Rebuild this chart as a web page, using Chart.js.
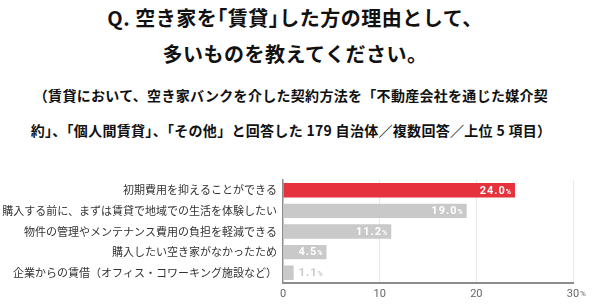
<!DOCTYPE html>
<html lang="ja">
<head>
<meta charset="utf-8">
<script src="https://cdn.jsdelivr.net/npm/chart.js@4/dist/chart.umd.min.js"></script>
<style>
  html, body { margin: 0; padding: 0; background: #fff; }
  #wrap { position: relative; width: 615px; height: 308px; overflow: hidden; }
  .txt { position: absolute; left: 0; width: 590px; text-align: center; white-space: nowrap;
         font-family: "Noto Sans CJK JP", sans-serif; font-weight: bold; color: #111; }
  .q { font-size: 20px; line-height: 36px; letter-spacing: 0.5px; }
  .q .h { font-feature-settings: "halt"; }
  .sub { font-size: 14px; line-height: 35px; letter-spacing: 0.3px; left: -4px; }
  canvas { position: absolute; left: 0; top: 0; }
</style>
</head>
<body>
<div id="wrap">
  <div class="txt q" style="top:0px">Q.&nbsp;空き家を<span class="h">「</span>賃貸<span class="h">」</span>した方の理由として、<br>多いものを教えてください。</div>
  <div class="txt sub" style="top:78px">（賃貸において、空き家バンクを介した契約方法を「不動産会社を通じた媒介契<br>約」、「個人間賃貸」、「その他」と回答した 179 自治体／複数回答／上位 5 項目）</div>
  <canvas id="myChart" width="615" height="308"></canvas>
</div>
<script>
// 回答項目と割合（%）
const labels = [
    '初期費用を抑えることができる',
    '購入する前に、まずは賃貸で地域での生活を体験したい',
    '物件の管理やメンテナンス費用の負担を軽減できる',
    '購入したい空き家がなかったため',
    '企業からの賃借（オフィス・コワーキング施設など）',
];
const values = [24.0, 19.0, 11.2, 4.5, 1.1];
const xTicks = [0, 10, 20, 30];

const RED = '#e5323d';
const GRAY = '#c9c9c9';

// バーの端に値ラベルを描く
const valueLabels = {
    id: 'valueLabels',
    afterDatasetsDraw(chart) {
        const ctx = chart.ctx;
        const meta = chart.getDatasetMeta(0);
        ctx.save();
        ctx.textBaseline = 'middle';
        meta.data.forEach((bar, i) => {
            const num = values[i].toFixed(1);
            ctx.font = 'bold 11px Roboto';
            ctx.letterSpacing = '1px';
            const w = ctx.measureText(num).width;
            ctx.font = 'bold 7px Roboto';
            ctx.letterSpacing = '0px';
            const pw = ctx.measureText('%').width;
            let x;
            if (values[i] > 3) {
                ctx.fillStyle = '#fff';
                x = bar.x - 4 - pw - w;
            } else {
                ctx.fillStyle = GRAY;
                x = bar.x + 5;
            }
            ctx.textAlign = 'left';
            ctx.font = 'bold 11px Roboto';
            ctx.letterSpacing = '1px';
            ctx.fillText(num, x, bar.y + 0.5);
            ctx.font = 'bold 7px Roboto';
            ctx.letterSpacing = '0px';
            ctx.fillText('%', x + w, bar.y + 1.5);
        });
        // 目盛り 30 の後ろの小さな %
        const xs = chart.scales.x;
        ctx.fillStyle = '#666';
        ctx.font = '8px Roboto';
        ctx.textAlign = 'left';
        ctx.fillText('%', xs.getPixelForValue(30) + 7, xs.top + 10.5);
        ctx.restore();
    },
};

const ctx = document.getElementById('myChart').getContext('2d');
const myChart = new Chart(ctx, {
    type: 'bar',
    data: {
        labels: labels,
        datasets: [{
            data: values,
            backgroundColor: values.map((v, i) => (i === 0 ? RED : GRAY)),
            categoryPercentage: 0.7,
            barPercentage: 1.0,
        }],
    },
    options: {
        indexAxis: 'y',
        responsive: false,
        animation: false,
        layout: { padding: { top: 180, right: 42, bottom: 5, left: 0 } },
        plugins: {
            legend: { display: false },
            tooltip: { enabled: false },
        },
        scales: {
            x: {
                min: 0,
                max: 30,
                afterBuildTicks: (s) => { s.ticks = xTicks.map((v) => ({ value: v })); },
                afterFit: (s) => { s.height = 20; },
                grid: {
                    drawTicks: false,
                    color: (c) => (c.tick && c.tick.value === 0 ? 'rgba(0,0,0,0)' : '#e9e9e9'),
                },
                border: { color: '#8c8c8c', width: 2 },
                ticks: {
                    padding: 5,
                    color: '#666',
                    font: { family: 'Roboto', size: 11 },
                },
            },
            y: {
                afterFit: (s) => { s.width = 283; },
                grid: { display: false, drawTicks: false },
                border: { color: '#8c8c8c', width: 1.5 },
                ticks: {
                    padding: 6,
                    color: '#333',
                    font: { family: 'Noto Sans CJK JP', size: 11 },
                },
            },
        },
    },
    plugins: [valueLabels],
});
</script>
</body>
</html>
